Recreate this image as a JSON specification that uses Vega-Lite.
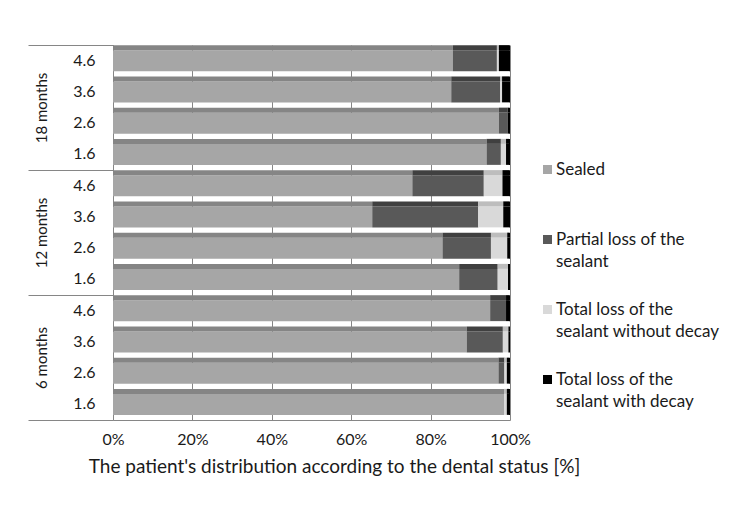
{
  "$schema": "https://vega.github.io/schema/vega-lite/v6.json",
  "width": 397,
  "height": 375,
  "autosize": {"type": "none"},
  "padding": {"left": 113, "top": 45, "right": 241, "bottom": 97},
  "background": "white",
  "config": {"font": "Lato", "view": {"stroke": null}, "style": {"guide-label": {"lineHeight": 22}}},
  "data": {"values": [
    {"period": "18 months", "key": "18 months 4.6", "status": "Sealed", "value": 85.6},
    {"period": "18 months", "key": "18 months 4.6", "status": "Partial loss of the sealant", "value": 11.1},
    {"period": "18 months", "key": "18 months 4.6", "status": "Total loss of the sealant without decay", "value": 0.5},
    {"period": "18 months", "key": "18 months 4.6", "status": "Total loss of the sealant with decay", "value": 2.8},
    {"period": "18 months", "key": "18 months 3.6", "status": "Sealed", "value": 85.2},
    {"period": "18 months", "key": "18 months 3.6", "status": "Partial loss of the sealant", "value": 12.3},
    {"period": "18 months", "key": "18 months 3.6", "status": "Total loss of the sealant without decay", "value": 0.5},
    {"period": "18 months", "key": "18 months 3.6", "status": "Total loss of the sealant with decay", "value": 2.0},
    {"period": "18 months", "key": "18 months 2.6", "status": "Sealed", "value": 97.2},
    {"period": "18 months", "key": "18 months 2.6", "status": "Partial loss of the sealant", "value": 2.2},
    {"period": "18 months", "key": "18 months 2.6", "status": "Total loss of the sealant without decay", "value": 0},
    {"period": "18 months", "key": "18 months 2.6", "status": "Total loss of the sealant with decay", "value": 0.6},
    {"period": "18 months", "key": "18 months 1.6", "status": "Sealed", "value": 94.1},
    {"period": "18 months", "key": "18 months 1.6", "status": "Partial loss of the sealant", "value": 3.6},
    {"period": "18 months", "key": "18 months 1.6", "status": "Total loss of the sealant without decay", "value": 1.3},
    {"period": "18 months", "key": "18 months 1.6", "status": "Total loss of the sealant with decay", "value": 1.0},
    {"period": "12 months", "key": "12 months 4.6", "status": "Sealed", "value": 75.4},
    {"period": "12 months", "key": "12 months 4.6", "status": "Partial loss of the sealant", "value": 18.0},
    {"period": "12 months", "key": "12 months 4.6", "status": "Total loss of the sealant without decay", "value": 4.7},
    {"period": "12 months", "key": "12 months 4.6", "status": "Total loss of the sealant with decay", "value": 1.9},
    {"period": "12 months", "key": "12 months 3.6", "status": "Sealed", "value": 65.3},
    {"period": "12 months", "key": "12 months 3.6", "status": "Partial loss of the sealant", "value": 26.7},
    {"period": "12 months", "key": "12 months 3.6", "status": "Total loss of the sealant without decay", "value": 6.3},
    {"period": "12 months", "key": "12 months 3.6", "status": "Total loss of the sealant with decay", "value": 1.7},
    {"period": "12 months", "key": "12 months 2.6", "status": "Sealed", "value": 83.0},
    {"period": "12 months", "key": "12 months 2.6", "status": "Partial loss of the sealant", "value": 12.2},
    {"period": "12 months", "key": "12 months 2.6", "status": "Total loss of the sealant without decay", "value": 4.1},
    {"period": "12 months", "key": "12 months 2.6", "status": "Total loss of the sealant with decay", "value": 0.7},
    {"period": "12 months", "key": "12 months 1.6", "status": "Sealed", "value": 87.2},
    {"period": "12 months", "key": "12 months 1.6", "status": "Partial loss of the sealant", "value": 9.7},
    {"period": "12 months", "key": "12 months 1.6", "status": "Total loss of the sealant without decay", "value": 2.6},
    {"period": "12 months", "key": "12 months 1.6", "status": "Total loss of the sealant with decay", "value": 0.5},
    {"period": "6 months", "key": "6 months 4.6", "status": "Sealed", "value": 95.0},
    {"period": "6 months", "key": "6 months 4.6", "status": "Partial loss of the sealant", "value": 4.0},
    {"period": "6 months", "key": "6 months 4.6", "status": "Total loss of the sealant without decay", "value": 0},
    {"period": "6 months", "key": "6 months 4.6", "status": "Total loss of the sealant with decay", "value": 1.0},
    {"period": "6 months", "key": "6 months 3.6", "status": "Sealed", "value": 89.1},
    {"period": "6 months", "key": "6 months 3.6", "status": "Partial loss of the sealant", "value": 9.1},
    {"period": "6 months", "key": "6 months 3.6", "status": "Total loss of the sealant without decay", "value": 1.4},
    {"period": "6 months", "key": "6 months 3.6", "status": "Total loss of the sealant with decay", "value": 0.4},
    {"period": "6 months", "key": "6 months 2.6", "status": "Sealed", "value": 97.1},
    {"period": "6 months", "key": "6 months 2.6", "status": "Partial loss of the sealant", "value": 1.5},
    {"period": "6 months", "key": "6 months 2.6", "status": "Total loss of the sealant without decay", "value": 0.6},
    {"period": "6 months", "key": "6 months 2.6", "status": "Total loss of the sealant with decay", "value": 0.8},
    {"period": "6 months", "key": "6 months 1.6", "status": "Sealed", "value": 98.5},
    {"period": "6 months", "key": "6 months 1.6", "status": "Partial loss of the sealant", "value": 0},
    {"period": "6 months", "key": "6 months 1.6", "status": "Total loss of the sealant without decay", "value": 0.7},
    {"period": "6 months", "key": "6 months 1.6", "status": "Total loss of the sealant with decay", "value": 0.8}
  ]},
  "transform": [
    {"calculate": "indexof(['Sealed','Partial loss of the sealant','Total loss of the sealant without decay','Total loss of the sealant with decay'], datum.status)", "as": "k"}
  ],
  "layer": [
    {
      "mark": {"type": "bar", "height": 21},
      "encoding": {
        "y": {"field": "key", "type": "nominal",
          "sort": ["18 months 4.6","18 months 3.6","18 months 2.6","18 months 1.6","12 months 4.6","12 months 3.6","12 months 2.6","12 months 1.6","6 months 4.6","6 months 3.6","6 months 2.6","6 months 1.6"],
          "scale": {"paddingInner": 0.3, "paddingOuter": 0.15},
          "axis": {"title": null, "labelExpr": "slice(datum.label, -3)", "ticks": false, "domain": true, "domainColor": "#868686", "labelPadding": 18, "labelFontSize": 16, "labelColor": "#1a1a1a", "grid": false}},
        "x": {"field": "value", "type": "quantitative", "stack": "normalize", "scale": {"domain": [0, 1]},
          "axis": {"title": "The patient's distribution according to the dental status [%]", "format": ".0%", "values": [0, 0.2, 0.4, 0.6, 0.8, 1], "grid": true, "gridColor": "#868686", "domain": true, "domainColor": "#868686", "ticks": false, "labelPadding": 11, "labelFontSize": 16, "labelColor": "#1a1a1a", "labelFlush": false, "titleFontSize": 19, "titleFontWeight": "normal", "titleColor": "#1a1a1a", "titlePadding": 10, "titleX": 221}},
        "color": {"field": "status", "type": "nominal",
          "scale": {"domain": ["Sealed","Partial loss of the sealant","Total loss of the sealant without decay","Total loss of the sealant with decay"], "range": ["#a6a6a6","#595959","#d9d9d9","#000000"]},
          "legend": {"orient": "none", "legendX": 426, "legendY": 116, "title": null, "symbolType": "square", "symbolSize": 81, "symbolStrokeWidth": 0, "labelFontSize": 17, "labelColor": "#1a1a1a", "labelLimit": 300, "labelOffset": 0, "rowPadding": 30, "labelBaseline": "middle",
            "labelExpr": "datum.label == 'Sealed' ? ['Sealed', ''] : datum.label == 'Partial loss of the sealant' ? ['Partial loss of the', 'sealant'] : datum.label == 'Total loss of the sealant without decay' ? ['Total loss of the', 'sealant without decay'] : ['Total loss of the', 'sealant with decay']"}},
        "order": {"field": "k", "type": "quantitative"}
      }
    },
    {
      "mark": {"type": "bar", "height": 5, "yOffset": -13},
      "encoding": {
        "y": {"field": "key", "type": "nominal",
          "sort": ["18 months 4.6","18 months 3.6","18 months 2.6","18 months 1.6","12 months 4.6","12 months 3.6","12 months 2.6","12 months 1.6","6 months 4.6","6 months 3.6","6 months 2.6","6 months 1.6"],
          "scale": {"paddingInner": 0.3, "paddingOuter": 0.15}, "axis": null},
        "x": {"field": "value", "type": "quantitative", "stack": "normalize", "scale": {"domain": [0, 1]},
          "axis": {"title": "The patient's distribution according to the dental status [%]", "format": ".0%", "values": [0, 0.2, 0.4, 0.6, 0.8, 1], "grid": true, "gridColor": "#868686", "domain": true, "domainColor": "#868686", "ticks": false, "labelPadding": 11, "labelFontSize": 16, "labelColor": "#1a1a1a", "labelFlush": false, "titleFontSize": 19, "titleFontWeight": "normal", "titleColor": "#1a1a1a", "titlePadding": 10, "titleX": 221}},
        "color": {"field": "status", "type": "nominal",
          "scale": {"domain": ["Sealed","Partial loss of the sealant","Total loss of the sealant without decay","Total loss of the sealant with decay"], "range": ["#858585","#404040","#bdbdbd","#000000"]},
          "legend": null},
        "order": {"field": "k", "type": "quantitative"}
      }
    },
    {
      "mark": {"type": "bar", "opacity": 0},
      "encoding": {
        "y": {"field": "period", "type": "nominal", "sort": ["18 months","12 months","6 months"],
          "scale": {"type": "band", "paddingInner": 0, "paddingOuter": 0},
          "axis": {"orient": "left", "title": null, "domain": false, "ticks": true, "tickBand": "extent", "tickSize": 85, "tickColor": "#868686", "labelAngle": -90, "labelAlign": "center", "labelBaseline": "bottom", "labelPadding": -21, "labelFontSize": 15, "labelColor": "#1a1a1a", "grid": false}}
      }
    }
  ],
  "resolve": {"scale": {"y": "independent", "color": "independent"}}
}
